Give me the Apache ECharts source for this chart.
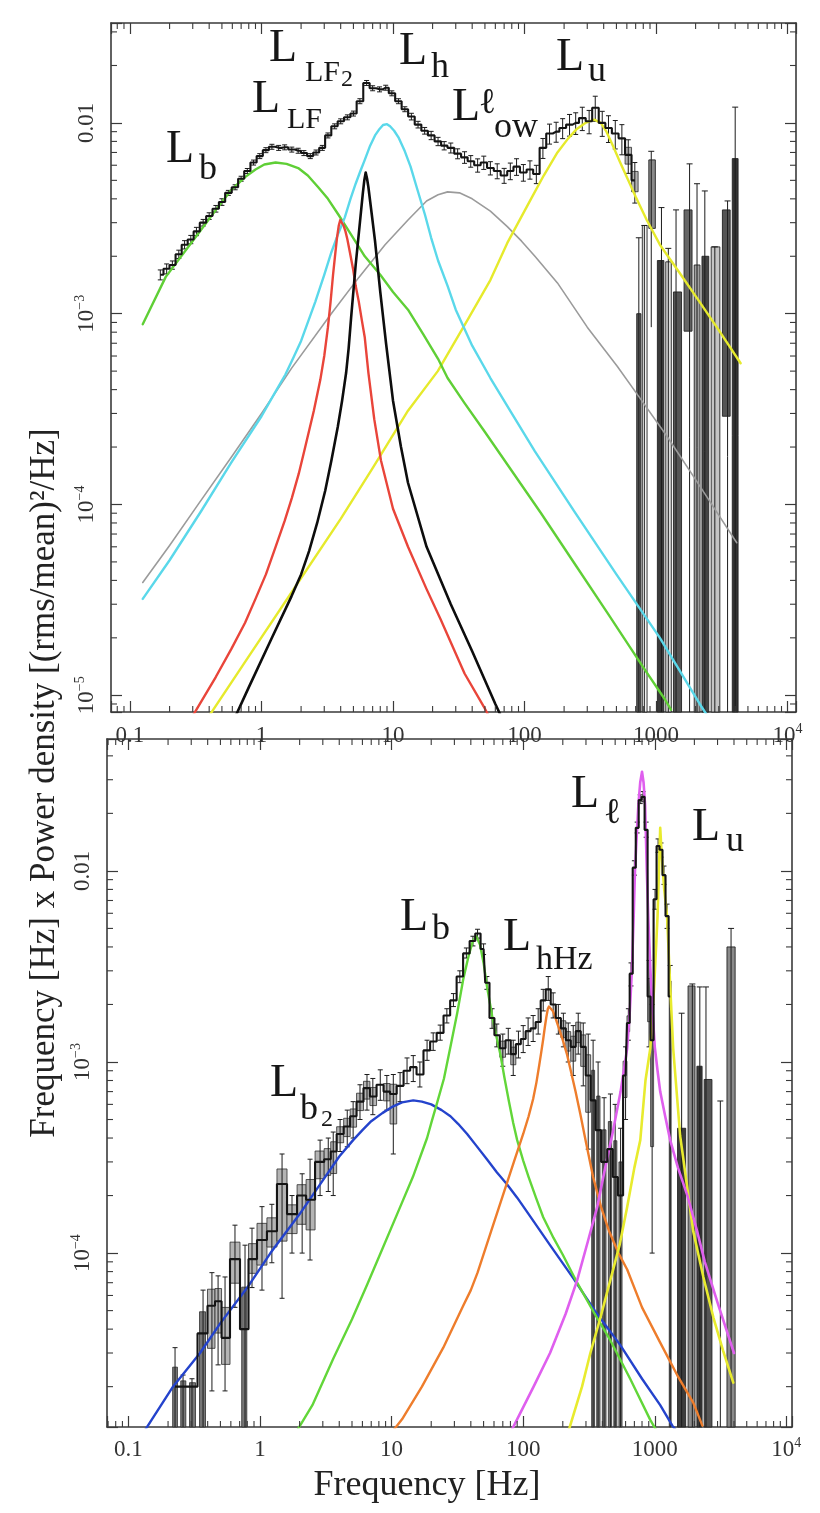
<!DOCTYPE html>
<html>
<head>
<meta charset="utf-8">
<title>Power density spectra</title>
<script src="https://cdn.jsdelivr.net/npm/echarts@6.0.0/dist/echarts.min.js"></script>
<style>
html,body{margin:0;padding:0;background:#ffffff;}
#chart{width:820px;height:1513px;}
</style>
</head>
<body>
<div id="chart"></div>
<script>
// ================= Tick labels =================
const xTickExp = [-1, 0, 1, 2, 3, 4];
const xTickText = ['0.1', '1', '10', '100', '1000', '10^4'];
const yTickExp = [-5, -4, -3, -2];
const yTickText = ['10^-5', '10^-4', '10^-3', '0.01'];

// value used for error bars / boxes that run off the bottom of the plot
const FLOOR = 1e-6;

// ================= Upper panel: measured spectrum =================
const topFreq = [0.17,0.19,0.21,0.235,0.26,0.29,0.32,0.36,0.40,0.45,
  0.50,0.56,0.63,0.70,0.78,0.87,0.97,1.08,1.20,1.35,
  1.50,1.70,1.90,2.10,2.35,2.60,2.90,3.20,3.60,4.00,
  4.50,5.00,5.60,6.30,7.00,7.90,8.80,9.80,11.0,12.3,
  13.8,15.5,17.4,19.5,22.0,24.5,27.5,31.0,35.0,39.0,
  44,49,55,62,70,78,87,98,110,123,
  138,155,174,195,220,245,275,310,345,390,
  435,490,550,615,690];
const topPower = [1.60e-3,1.72e-3,1.80e-3,2.05e-3,2.30e-3,2.45e-3,2.70e-3,3.00e-3,3.25e-3,3.55e-3,
  3.85e-3,4.30e-3,4.60e-3,5.10e-3,5.60e-3,6.20e-3,6.70e-3,7.20e-3,7.50e-3,7.40e-3,
  7.45e-3,7.25e-3,7.15e-3,6.95e-3,6.70e-3,7.00e-3,7.40e-3,8.60e-3,9.60e-3,1.02e-2,
  1.07e-2,1.12e-2,1.30e-2,1.62e-2,1.52e-2,1.50e-2,1.53e-2,1.43e-2,1.30e-2,1.18e-2,
  1.08e-2,9.8e-3,9.1e-3,8.6e-3,8.0e-3,7.6e-3,7.4e-3,6.9e-3,6.6e-3,6.3e-3,
  6.0e-3,6.2e-3,5.8e-3,5.6e-3,5.3e-3,5.6e-3,5.9e-3,5.5e-3,5.7e-3,5.4e-3,
  7.4e-3,8.8e-3,9.0e-3,9.4e-3,9.8e-3,1.0e-2,1.06e-2,1.02e-2,1.20e-2,1.0e-2,
  9.4e-3,8.8e-3,8.3e-3,6.8e-3,5.0e-3];
const topErr = [0.06,0.06,0.05,0.05,0.05,0.05,0.05,0.04,0.04,0.04,
  0.04,0.03,0.03,0.03,0.03,0.03,0.03,0.03,0.03,0.03,
  0.03,0.03,0.03,0.03,0.03,0.03,0.03,0.03,0.03,0.03,
  0.03,0.03,0.03,0.03,0.03,0.03,0.03,0.03,0.03,0.03,
  0.04,0.04,0.04,0.05,0.05,0.05,0.06,0.06,0.07,0.07,
  0.08,0.08,0.08,0.09,0.09,0.10,0.10,0.10,0.11,0.11,
  0.12,0.12,0.12,0.12,0.13,0.13,0.14,0.14,0.15,0.15,
  0.16,0.17,0.18,0.20,0.24];
// upper panel: noisy high-frequency bins
const topBinFreq  = [740,815,920,1100,1240,1420,1800,2050,2350,2800,3500,4000];
const topBinBoxLo = [1e-6,1e-6,2.8e-3,1e-6,1e-6,1e-6,8.1e-4,1e-6,1e-6,1e-6,2.9e-4,1e-6];
const topBinBoxHi = [1.0e-3,2.9e-3,6.4e-3,1.9e-3,1.87e-3,1.3e-3,3.5e-3,1.8e-3,2.0e-3,2.24e-3,3.5e-3,6.5e-3];
const topBinErrLo = [1e-6,1e-6,8.5e-4,1e-6,1e-6,1e-6,1e-6,1e-6,1e-6,1e-6,1e-6,1e-6];
const topBinErrHi = [2.5e-3,2.9e-3,7.1e-3,3.6e-3,2.2e-3,3.5e-3,6.1e-3,4.8e-3,4.4e-3,2.24e-3,3.9e-3,1.21e-2];

// upper panel: fitted components
const topLbF = [0.125,0.187,0.333,0.45,0.59,0.75,0.9,1.05,1.28,1.55,1.9,2.25,2.7,3.2,3.85,4.8,6.1,8,10,13,17,22,26,35,50,132,250,427,800,1170,1300];
const topLbV = [8.8e-4,1.56e-3,2.65e-3,3.5e-3,4.46e-3,5.2e-3,5.7e-3,6.05e-3,6.2e-3,6.1e-3,5.8e-3,5.3e-3,4.6e-3,4.0e-3,3.3e-3,2.6e-3,2.0e-3,1.6e-3,1.3e-3,1.05e-3,7.8e-4,5.8e-4,4.6e-4,3.4e-4,2.4e-4,9.1e-5,4.7e-5,2.7e-5,1.4e-5,9.5e-6,8.4e-6];
const topLhF = [0.125,0.2,0.35,0.59,1.0,1.25,1.52,1.75,2.0,2.25,2.56,3.0,3.4,3.85,4.3,4.75,5.2,5.65,6.1,6.7,7.3,7.9,8.4,9.0,9.5,10.2,11,12.3,13.6,15,17.5,19.5,22,26,30,40,55,80,120,239,500,1070,2150,2400];
const topLhV = [3.2e-5,5.1e-5,9.3e-5,1.66e-4,2.9e-4,3.8e-4,4.8e-4,5.9e-4,7.2e-4,9.0e-4,1.15e-3,1.6e-3,2.1e-3,2.65e-3,3.2e-3,4.0e-3,4.8e-3,5.6e-3,6.4e-3,7.6e-3,8.6e-3,9.3e-3,9.75e-3,9.85e-3,9.6e-3,9.1e-3,8.4e-3,7.1e-3,5.9e-3,4.7e-3,3.3e-3,2.5e-3,1.9e-3,1.4e-3,1.05e-3,6.8e-4,4.6e-4,3.0e-4,1.9e-4,9.2e-5,4.3e-5,2.0e-5,9.0e-6,8.0e-6];
const topLlowF = [0.125,0.2,0.333,0.6,1.0,1.7,3.39,5.5,8.7,13,18,22,26,32,40,55,74,95,120,178,300,507,757,1200,2000,3000,4110];
const topLlowV = [3.9e-5,6.1e-5,1.01e-4,1.8e-4,3.0e-4,5.2e-4,1.0e-3,1.55e-3,2.3e-3,3.1e-3,3.9e-3,4.2e-3,4.35e-3,4.3e-3,4.0e-3,3.45e-3,2.86e-3,2.4e-3,2.0e-3,1.45e-3,8.5e-4,5.3e-4,3.6e-4,2.3e-4,1.35e-4,8.8e-5,6.3e-5];
const topLLFF = [0.30,0.45,0.59,0.75,0.9,1.08,1.28,1.5,1.7,1.92,2.15,2.5,2.8,3.0,3.2,3.35,3.5,3.62,3.75,3.87,3.97,4.08,4.2,4.35,4.5,4.7,4.98,5.2,5.5,5.8,6.1,6.5,7.2,8.1,10,13,18,23,35,50,55];
const topLLFV = [7.8e-6,1.25e-5,1.75e-5,2.4e-5,3.2e-5,4.3e-5,6.0e-5,8.2e-5,1.08e-4,1.45e-4,2.0e-4,3.1e-4,4.5e-4,6.0e-4,8.5e-4,1.15e-3,1.6e-3,2.0e-3,2.5e-3,2.9e-3,3.1e-3,3.05e-3,2.9e-3,2.7e-3,2.45e-3,2.1e-3,1.7e-3,1.4e-3,1.15e-3,9.2e-4,7.5e-4,4.9e-4,2.8e-4,1.7e-4,9.5e-5,6.0e-5,3.6e-5,2.5e-5,1.3e-5,8.5e-6,7.5e-6];
const topLLF2F = [0.62,0.8,1.2,1.69,2.0,2.3,2.65,3.05,3.4,3.8,4.1,4.4,4.6,4.8,5.2,5.6,5.9,6.05,6.2,6.35,6.5,6.9,7.3,8.0,8.85,10,11.5,13,18,27.5,40,60,65];
const topLLF2V = [7.5e-6,1.1e-5,2.0e-5,3.3e-5,4.3e-5,5.7e-5,8.0e-5,1.18e-4,1.7e-4,2.55e-4,3.5e-4,4.9e-4,6.6e-4,9.5e-4,1.8e-3,3.0e-3,4.3e-3,5.0e-3,5.5e-3,5.1e-3,4.6e-3,3.3e-3,2.4e-3,1.3e-3,7.0e-4,3.5e-4,2.0e-4,1.3e-4,6.0e-5,3.0e-5,1.7e-5,9.0e-6,8.0e-6];
const topLuF = [0.40,0.8,1.9,4.0,7.0,13,21.9,37,55,74,110,140,178,215,250,290,339,380,420,470,534,615,700,850,1070,1500,2150,3000,4400];
const topLuV = [7.8e-6,1.6e-5,3.9e-5,8.4e-5,1.55e-4,3.1e-4,5.0e-4,9.3e-4,1.5e-3,2.35e-3,3.9e-3,5.3e-3,7.0e-3,8.3e-3,9.3e-3,1.0e-2,1.04e-2,1.0e-2,9.0e-3,7.6e-3,6.2e-3,5.0e-3,4.1e-3,3.1e-3,2.3e-3,1.65e-3,1.15e-3,8.2e-4,5.5e-4];

// ================= Lower panel: measured spectrum =================
const botFreq = [0.226,0.26,0.304,0.369,0.431,0.48,0.542,0.645,0.769,0.869,
  1.035,1.23,1.47,1.75,2.09,2.4,2.86,3.3,3.6,4.06,
  4.6,5.1,5.75,6.5,7.2,8.2,9.2,10.3,11.6,13.1,
  14.6,16.4,18.6,20.7,23.4,26.3,29.5,33,37,41.5,
  45,50,53,58,63,70,77,84,92,100,
  109,119,130,142,155,169,185,202,220,240,
  262,286,312,340,371,412,460,500,550,600,
  630,660,700,735,775,815,860,905,955,1005,
  1060,1115,1175,1240,1310];
const botPower = [2.0e-5,2.0e-5,2.0e-5,3.8e-5,5.3e-5,5.6e-5,3.6e-5,9.3e-5,4.0e-5,9.3e-5,
  1.17e-4,1.3e-4,2.3e-4,1.6e-4,2.0e-4,1.9e-4,3.0e-4,3.1e-4,3.4e-4,4.2e-4,
  4.6e-4,5.2e-4,6.2e-4,7.3e-4,6.6e-4,7.6e-4,7.0e-4,6.8e-4,7.5e-4,9.0e-4,
  9.4e-4,8.6e-4,1.15e-3,1.28e-3,1.42e-3,1.75e-3,2.1e-3,2.8e-3,3.7e-3,4.3e-3,
  4.7e-3,3.9e-3,2.6e-3,1.7e-3,1.38e-3,1.18e-3,1.3e-3,1.1e-3,1.24e-3,1.32e-3,
  1.45e-3,1.5e-3,1.62e-3,2.1e-3,2.4e-3,2.0e-3,1.7e-3,1.5e-3,1.3e-3,1.2e-3,
  1.45e-3,1.2e-3,8.5e-4,6.3e-4,4.4e-4,3.0e-4,3.5e-4,2.5e-4,2.0e-4,8.5e-4,
  1.6e-3,2.9e-3,1.04e-2,1.68e-2,2.35e-2,2.44e-2,1.64e-2,2.2e-3,1.3e-3,7.1e-3,
  1.35e-2,1.29e-2,9.5e-3,5.8e-3,2.2e-3];
const botLo = [1e-6,1e-6,1e-6,1e-6,1.9e-5,2.6e-5,1.9e-5,5.2e-5,1e-6,6.6e-5,
  6.4e-5,8.9e-5,5.8e-5,1.0e-4,1.0e-4,9.2e-5,2.0e-4,2.1e-4,2.0e-4,3.4e-4,
  3.6e-4,4.0e-4,5.0e-4,5.6e-4,5.3e-4,6.3e-4,5.6e-4,3.3e-4,6.2e-4,7.7e-4,
  7.9e-4,7.4e-4,1.02e-3,1.15e-3,1.3e-3,1.6e-3,1.95e-3,2.6e-3,3.5e-3,4.05e-3,
  4.45e-3,3.65e-3,2.4e-3,1.5e-3,1.2e-3,9.5e-4,1.1e-3,8.5e-4,1.05e-3,1.12e-3,
  1.22e-3,1.28e-3,1.4e-3,1.85e-3,2.1e-3,1.7e-3,1.4e-3,1.2e-3,1.0e-3,8.5e-4,
  1.1e-3,7.5e-4,3.5e-4,1e-6,1e-6,1e-6,1e-6,1e-6,1e-6,5.0e-4,
  1.3e-3,2.5e-3,9.5e-3,1.58e-2,2.25e-2,2.3e-2,1.5e-2,1.2e-3,1.0e-4,6.3e-3,
  1.25e-2,1.18e-2,8.5e-3,5.0e-3,1e-6];
const botHi = [3.2e-5,2.3e-5,2.2e-5,6.4e-5,7.9e-5,7.6e-5,7.5e-5,1.4e-4,1.1e-4,1.35e-4,
  1.75e-4,1.8e-4,3.3e-4,2.0e-4,2.6e-4,3.1e-4,3.9e-4,4.0e-4,4.3e-4,5.0e-4,
  5.6e-4,6.2e-4,7.6e-4,8.6e-4,8.2e-4,9.1e-4,8.5e-4,8.6e-4,8.8e-4,1.05e-3,
  1.08e-3,1.0e-3,1.3e-3,1.42e-3,1.56e-3,1.9e-3,2.28e-3,3.0e-3,3.95e-3,4.55e-3,
  4.95e-3,4.15e-3,2.8e-3,1.9e-3,1.58e-3,1.4e-3,1.5e-3,1.3e-3,1.45e-3,1.55e-3,
  1.7e-3,1.75e-3,1.9e-3,2.4e-3,2.8e-3,2.3e-3,2.0e-3,1.8e-3,1.6e-3,1.55e-3,
  1.8e-3,1.6e-3,1.4e-3,1.3e-3,1.0e-3,6.5e-4,6.8e-4,6.0e-4,4.5e-4,1.2e-3,
  1.9e-3,3.3e-3,1.13e-2,1.8e-2,2.5e-2,2.6e-2,1.8e-2,3.4e-3,2.0e-3,8.0e-3,
  1.47e-2,1.4e-2,1.06e-2,6.7e-3,3.2e-3];
// lower panel: noisy high-frequency bins
const botBinFreq  = [1600,1930,2200,2450,3150,3800];
const botBinBoxLo = [1e-6,1e-6,1e-6,1e-6,1e-6,1e-6];
const botBinBoxHi = [4.5e-4,2.5e-3,9.5e-4,8.1e-4,1e-6,4.0e-3];
const botBinErrLo = [1e-6,1e-6,1e-6,1e-6,1e-6,1e-6];
const botBinErrHi = [1.8e-3,2.56e-3,2.47e-3,2.47e-3,6.25e-4,5.0e-3];

// lower panel: fitted components
const botLb2F = [0.13,0.218,0.35,0.5,0.8,1.2,2.0,3.0,4.0,5.1,6.0,7.0,8.5,10,12,14.6,17,20,24,28,32,37.5,44,53,63,75,90,110,160,240,350,547,800,1100,1360,1500];
const botLb2V = [1.15e-5,2.0e-5,3.0e-5,4.3e-5,6.6e-5,1.0e-4,1.6e-4,2.4e-4,3.2e-4,3.9e-4,4.4e-4,4.9e-4,5.4e-4,5.8e-4,6.15e-4,6.3e-4,6.2e-4,6.0e-4,5.6e-4,5.2e-4,4.75e-4,4.2e-4,3.65e-4,3.1e-4,2.65e-4,2.3e-4,1.95e-4,1.6e-4,1.1e-4,7.4e-5,5.0e-5,3.3e-5,2.2e-5,1.6e-5,1.25e-5,1.15e-5];
const botLbF = [1.8,2.5,3.6,5.0,6.5,8.5,11.6,14.5,18.6,20.2,22,25,28,31.5,35,38.5,41.5,44,47,50,53,58,62,67,72,78,84,90,100,110,125,142,170,200,257,350,459,650,924,1050];
const botLbV = [1.1e-5,1.6e-5,2.8e-5,4.5e-5,6.8e-5,1.05e-4,1.74e-4,2.5e-4,4.0e-4,4.9e-4,6.0e-4,8.2e-4,1.2e-3,1.8e-3,2.7e-3,3.6e-3,4.3e-3,4.55e-3,4.1e-3,3.3e-3,2.5e-3,1.75e-3,1.4e-3,1.1e-3,8.3e-4,6.2e-4,4.8e-4,3.9e-4,3.05e-4,2.5e-4,1.95e-4,1.54e-4,1.2e-4,9.8e-5,7.0e-5,4.8e-5,3.5e-5,2.2e-5,1.34e-5,1.15e-5];
const botLhHzF = [10,12,17,24.7,35,40,45,57,70,85,100,110,119,126,132,137,142,146,150,154,157,161,168,175,181,190,200,215,230,250,271,300,340,390,450,530,617,800,1100,1480,1960,2300];
const botLhHzV = [1.15e-5,1.35e-5,2.0e-5,3.2e-5,5.3e-5,6.4e-5,7.9e-5,1.3e-4,2.0e-4,3.0e-4,4.2e-4,5.2e-4,6.4e-4,7.8e-4,9.5e-4,1.12e-3,1.32e-3,1.52e-3,1.72e-3,1.9e-3,1.95e-3,1.93e-3,1.85e-3,1.72e-3,1.6e-3,1.45e-3,1.3e-3,1.1e-3,9.0e-4,7.0e-4,5.4e-4,3.8e-4,2.5e-4,1.75e-4,1.3e-4,1.0e-4,8.2e-5,5.2e-5,3.4e-5,2.3e-5,1.65e-5,1.25e-5];
const botLlF = [80,120,160,210,257,310,365,420,480,550,617,645,670,690,707,730,750,775,800,822,845,870,895,925,960,1000,1050,1100,1200,1310,1500,1770,2100,2400,3000,4000];
const botLlV = [1.15e-5,2.0e-5,3.0e-5,4.8e-5,7.2e-5,1.15e-4,1.74e-4,2.8e-4,4.3e-4,7.0e-4,1.18e-3,1.8e-3,3.0e-3,5.5e-3,9.9e-3,1.55e-2,2.2e-2,2.9e-2,3.3e-2,2.9e-2,2.2e-2,9.9e-3,5.5e-3,3.1e-3,1.9e-3,1.2e-3,9.0e-4,7.0e-4,5.2e-4,3.9e-4,2.8e-4,2.0e-4,1.3e-4,9.0e-5,5.5e-5,3.0e-5];
const botLuF = [215,280,324,390,459,540,617,700,776,850,925,990,1050,1080,1100,1130,1180,1240,1310,1380,1560,1960,2340,2790,3300,3950];
const botLuV = [1.1e-5,2.0e-5,3.0e-5,4.7e-5,7.2e-5,1.1e-4,1.74e-4,2.8e-4,3.9e-4,8.0e-4,1.18e-3,2.5e-3,5.8e-3,1.1e-2,1.68e-2,1.2e-2,8.0e-3,5.8e-3,2.5e-3,1.18e-3,4.1e-4,1.3e-4,7.5e-5,4.6e-5,3.1e-5,2.1e-5];

// ================= Layout & style =================
const SERIF = '"Liberation Serif","Times New Roman","DejaVu Serif",serif';
const AX = '#3a3a3a';
const TOP_X = [0.0717, 11600], TOP_Y = [8.17e-6, 0.0334];
const BOT_X = [0.0687, 11040], BOT_Y = [1.23e-5, 0.049];
const topBinFill = ['#5a5a5a','#f2f2f2','#8a8a8a','#3a3a3a','#dcdcdc','#555555','#666666','#a0a0a0','#444444','#c4c4c4','#555555','#333333'];
const botBinFill = ['#3c3c3c','#8c8c8c','#3a3a3a','#555555','#000000','#8a8a8a'];

function tickFormatter(exps, texts) {
  return function (value) {
    const lg = Math.log10(value);
    const e = Math.round(lg);
    if (Math.abs(lg - e) > 1e-4) return '';
    const k = exps.indexOf(e);
    if (k < 0) return '';
    const t = texts[k];
    if (t.indexOf('^') >= 0) {
      const p = t.split('^');
      return '{b|' + p[0] + '}{s|' + p[1].replace('-', '\u2212') + '}';
    }
    return '{b|' + t + '}';
  };
}
const richLbl = {
  b: {fontFamily: SERIF, fontSize: 23, color: '#333', lineHeight: 28},
  s: {fontFamily: SERIF, fontSize: 14, color: '#333', lineHeight: 12, verticalAlign: 'top'}
};
function axis(kind, grid, range, pos, showLabel, margin) {
  const exps = kind === 'x' ? xTickExp : yTickExp;
  const texts = kind === 'x' ? xTickText : yTickText;
  return {
    type: 'log', logBase: 10, gridIndex: grid, min: range[0], max: range[1], position: pos,
    axisLine: {show: true, onZero: false, lineStyle: {color: AX, width: 1.6}},
    axisTick: {show: true, inside: true, length: 11, lineStyle: {color: AX, width: 1.2}},
    minorTick: {show: false}, splitLine: {show: false}, minorSplitLine: {show: false},
    axisLabel: showLabel ? {
      show: true, margin: margin, rotate: kind === 'y' ? 90 : 0,
      formatter: tickFormatter(exps, texts), rich: richLbl,
      showMinLabel: true, showMaxLabel: true
    } : {show: false},
    silent: true
  };
}
function edges(fs) {
  return fs.map(function (f, i) {
    const l = i > 0 ? Math.sqrt(fs[i - 1] * f) : f / Math.sqrt(fs[i + 1] / f);
    const r = i < fs.length - 1 ? Math.sqrt(f * fs[i + 1]) : f * Math.sqrt(f / fs[i - 1]);
    return [l, r];
  });
}
function clampY(cs, y) { return Math.max(cs.y, Math.min(cs.y + cs.height, y)); }

function errSeries(xi, yi, fs, vs, los, his) {
  const ed = edges(fs);
  const items = fs.map(function (f, i) { return [f, vs[i], los[i], his[i], ed[i][0], ed[i][1]]; });
  return {
    type: 'custom', xAxisIndex: xi, yAxisIndex: yi, data: items, silent: true, z: 2,
    renderItem: function (params, api) {
      const cs = params.coordSys;
      const f = api.value(0), v = api.value(1), lo = api.value(2), hi = api.value(3), l = api.value(4), r = api.value(5);
      const ch = [];
      if (hi / lo > 1.45) {
        const toFloor = lo <= FLOOR;
        const bLo = toFloor ? lo : Math.sqrt(v * lo);
        const bHi = Math.sqrt(v * hi);
        const a = api.coord([l, bHi]), b = api.coord([r, bLo]);
        const y1 = clampY(cs, a[1]), y2 = clampY(cs, b[1]);
        let x0 = a[0], w = Math.max(1.5, b[0] - a[0]);
        if (toFloor) { x0 += w * 0.2; w *= 0.6; }
        if (y2 > y1) ch.push({type: 'rect', shape: {x: x0, y: y1, width: w, height: y2 - y1},
          style: {fill: toFloor ? '#777777' : '#b4b4b4', stroke: '#2e2e2e', lineWidth: 0.8}});
      }
      const pL = api.coord([f, lo]), pH = api.coord([f, hi]);
      const yl = clampY(cs, pL[1]), yh = clampY(cs, pH[1]);
      const st = {stroke: '#1c1c1c', lineWidth: 1};
      ch.push({type: 'line', shape: {x1: pL[0], y1: yl, x2: pH[0], y2: yh}, style: st});
      if (pH[1] >= cs.y) ch.push({type: 'line', shape: {x1: pH[0] - 2.5, y1: yh, x2: pH[0] + 2.5, y2: yh}, style: st});
      if (pL[1] <= cs.y + cs.height) ch.push({type: 'line', shape: {x1: pL[0] - 2.5, y1: yl, x2: pL[0] + 2.5, y2: yl}, style: st});
      return {type: 'group', children: ch};
    }
  };
}
function binSeries(xi, yi, fs, bLo, bHi, eLo, eHi, fills) {
  const ed = edges(fs);
  const items = fs.map(function (f, i) { return [f, bLo[i], bHi[i], eLo[i], eHi[i], ed[i][0], ed[i][1], i]; });
  return {
    type: 'custom', xAxisIndex: xi, yAxisIndex: yi, data: items, silent: true, z: 2,
    renderItem: function (params, api) {
      const cs = params.coordSys;
      const f = api.value(0), lo = api.value(1), hi = api.value(2), el = api.value(3), eh = api.value(4);
      const l = api.value(5), r = api.value(6), idx = api.value(7);
      const ch = [];
      if (hi > lo) {
        const a = api.coord([l, hi]), b = api.coord([r, lo]);
        const y1 = clampY(cs, a[1]), y2 = clampY(cs, b[1]);
        const w = b[0] - a[0];
        ch.push({type: 'rect', shape: {x: a[0] + w * 0.12, y: y1, width: w * 0.76, height: y2 - y1},
          style: {fill: fills[idx], stroke: '#222', lineWidth: 0.9}});
      }
      const pL = api.coord([f, el]), pH = api.coord([f, eh]);
      const yl = clampY(cs, pL[1]), yh = clampY(cs, pH[1]);
      const st = {stroke: '#1c1c1c', lineWidth: 1};
      ch.push({type: 'line', shape: {x1: pL[0], y1: yl, x2: pH[0], y2: yh}, style: st});
      ch.push({type: 'line', shape: {x1: pH[0] - 3, y1: yh, x2: pH[0] + 3, y2: yh}, style: st});
      return {type: 'group', children: ch};
    }
  };
}
function model(xi, yi, fs, vs, color, width) {
  return {type: 'line', xAxisIndex: xi, yAxisIndex: yi, data: fs.map(function (f, i) { return [f, vs[i]]; }),
    showSymbol: false, symbol: 'none', smooth: false, clip: true, silent: true, z: 3,
    lineStyle: {color: color, width: width, join: 'round', cap: 'round'}};
}
function stepLine(xi, yi, fs, vs) {
  return {type: 'line', xAxisIndex: xi, yAxisIndex: yi, data: fs.map(function (f, i) { return [f, vs[i]]; }),
    step: 'middle', showSymbol: false, symbol: 'none', clip: true, silent: true, z: 4,
    lineStyle: {color: '#141414', width: 2.1}};
}
const MINOR = [2, 3, 4, 5, 6, 7, 8, 9];
function minorVals(range) {
  const out = [];
  for (let e = -7; e <= 5; e++) for (const m of MINOR) {
    const v = m * Math.pow(10, e);
    if (v > range[0] * 1.0001 && v < range[1] * 0.9999) out.push(v);
  }
  return out;
}
function minorX(xi, yi, xr, yr) {
  return {type: 'custom', xAxisIndex: xi, yAxisIndex: yi, silent: true, z: 10,
    data: minorVals(xr).map(function (v) { return [v, yr[0] * 1.5]; }),
    renderItem: function (params, api) {
      const cs = params.coordSys; const x = api.coord([api.value(0), yr[0] * 1.5])[0];
      const st = {stroke: AX, lineWidth: 1.1};
      return {type: 'group', children: [
        {type: 'line', shape: {x1: x, y1: cs.y + cs.height, x2: x, y2: cs.y + cs.height - 6}, style: st},
        {type: 'line', shape: {x1: x, y1: cs.y, x2: x, y2: cs.y + 6}, style: st}]};
    }};
}
function minorY(xi, yi, xr, yr) {
  return {type: 'custom', xAxisIndex: xi, yAxisIndex: yi, silent: true, z: 10,
    data: minorVals(yr).map(function (v) { return [xr[0] * 1.5, v]; }),
    renderItem: function (params, api) {
      const cs = params.coordSys; const y = api.coord([xr[0] * 1.5, api.value(1)])[1];
      const st = {stroke: AX, lineWidth: 1.1};
      return {type: 'group', children: [
        {type: 'line', shape: {x1: cs.x, y1: y, x2: cs.x + 6, y2: y}, style: st},
        {type: 'line', shape: {x1: cs.x + cs.width, y1: y, x2: cs.x + cs.width - 6, y2: y}, style: st}]};
    }};
}
function txt(x, y, text, size) {
  return {type: 'text', x: x, y: y, silent: true, z: 20,
    style: {text: text, font: size + 'px ' + SERIF, fill: '#161616',
      align: 'left', verticalAlign: 'middle', textAlign: 'left', textVerticalAlign: 'middle'}};
}

const topErrLo = topPower.map(function (v, i) { return v * (1 - topErr[i]); });
const topErrHi = topPower.map(function (v, i) { return v * (1 + topErr[i]); });

const option = {
  animation: false,
  backgroundColor: '#ffffff',
  grid: [
    {left: 111, top: 23, width: 685, height: 689, containLabel: false, outerBoundsMode: 'none', show: false},
    {left: 107, top: 739, width: 685, height: 688, containLabel: false, outerBoundsMode: 'none', show: false}
  ],
  xAxis: [
    axis('x', 0, TOP_X, 'bottom', true, 10),
    axis('x', 0, TOP_X, 'top', false, 0),
    axis('x', 1, BOT_X, 'bottom', true, 9),
    axis('x', 1, BOT_X, 'top', false, 0)
  ],
  yAxis: [
    axis('y', 0, TOP_Y, 'left', true, 10),
    axis('y', 0, TOP_Y, 'right', false, 0),
    axis('y', 1, BOT_Y, 'left', true, 10),
    axis('y', 1, BOT_Y, 'right', false, 0)
  ],
  series: [
    // upper panel
    errSeries(0, 0, topFreq, topPower, topErrLo, topErrHi),
    binSeries(0, 0, topBinFreq, topBinBoxLo, topBinBoxHi, topBinErrLo, topBinErrHi, topBinFill),
    model(0, 0, topLlowF, topLlowV, '#9b9b9b', 1.6),
    model(0, 0, topLuF, topLuV, '#e6ea2c', 2.4),
    model(0, 0, topLbF, topLbV, '#5fcf36', 2.4),
    model(0, 0, topLhF, topLhV, '#5ad8ea', 2.4),
    model(0, 0, topLLFF, topLLFV, '#e9453a', 2.4),
    model(0, 0, topLLF2F, topLLF2V, '#0d0d0d', 2.6),
    stepLine(0, 0, topFreq, topPower),
    // lower panel
    errSeries(2, 2, botFreq, botPower, botLo, botHi),
    binSeries(2, 2, botBinFreq, botBinBoxLo, botBinBoxHi, botBinErrLo, botBinErrHi, botBinFill),
    model(2, 2, botLb2F, botLb2V, '#2443cc', 2.4),
    model(2, 2, botLbF, botLbV, '#62d639', 2.4),
    model(2, 2, botLhHzF, botLhHzV, '#ee7d2c', 2.4),
    model(2, 2, botLuF, botLuV, '#e8eb2e', 2.6),
    model(2, 2, botLlF, botLlV, '#df5fee', 2.6),
    stepLine(2, 2, botFreq, botPower),
    // minor ticks
    minorX(0, 0, TOP_X, TOP_Y), minorY(0, 0, TOP_X, TOP_Y),
    minorX(2, 2, BOT_X, BOT_Y), minorY(2, 2, BOT_X, BOT_Y)
  ],
  graphic: [
    // upper panel component labels
    txt(166, 150, 'L', 46), txt(199, 170, 'b', 36),
    txt(252, 100, 'L', 46), txt(287, 120, 'LF', 30),
    txt(269, 49, 'L', 46), txt(305, 73, 'LF', 30), txt(341, 80, '2', 24),
    txt(399, 52, 'L', 46), txt(431, 68, 'h', 36),
    txt(452, 108, 'L', 46), txt(479, 104, '\u2113', 36), txt(494, 128, 'ow', 36),
    txt(556, 58, 'L', 46), txt(588, 72, 'u', 36),
    // lower panel component labels
    txt(270, 1084, 'L', 46), txt(300, 1110, 'b', 36), txt(321, 1120, '2', 24),
    txt(400, 918, 'L', 46), txt(432, 930, 'b', 36),
    txt(503, 938, 'L', 46), txt(536, 960, 'hHz', 34),
    txt(571, 795, 'L', 46), txt(604, 814, '\u2113', 36),
    txt(692, 828, 'L', 46), txt(726, 842, 'u', 36),
    // axis titles
    {type: 'text', x: 45, y: 783, rotation: Math.PI / 2, silent: true, z: 20,
      style: {text: 'Frequency [Hz] x Power density [(rms/mean)\u00b2/Hz]', font: '35px ' + SERIF, fill: '#222',
        align: 'center', verticalAlign: 'middle', textAlign: 'center', textVerticalAlign: 'middle'}},
    {type: 'text', x: 427, y: 1486, silent: true, z: 20,
      style: {text: 'Frequency [Hz]', font: '36px ' + SERIF, fill: '#222',
        align: 'center', verticalAlign: 'middle', textAlign: 'center', textVerticalAlign: 'middle'}}
  ]
};

const chart = echarts.init(document.getElementById('chart'), null, {renderer: 'canvas', width: 820, height: 1513});
chart.setOption(option);
</script>
</body>
</html>
